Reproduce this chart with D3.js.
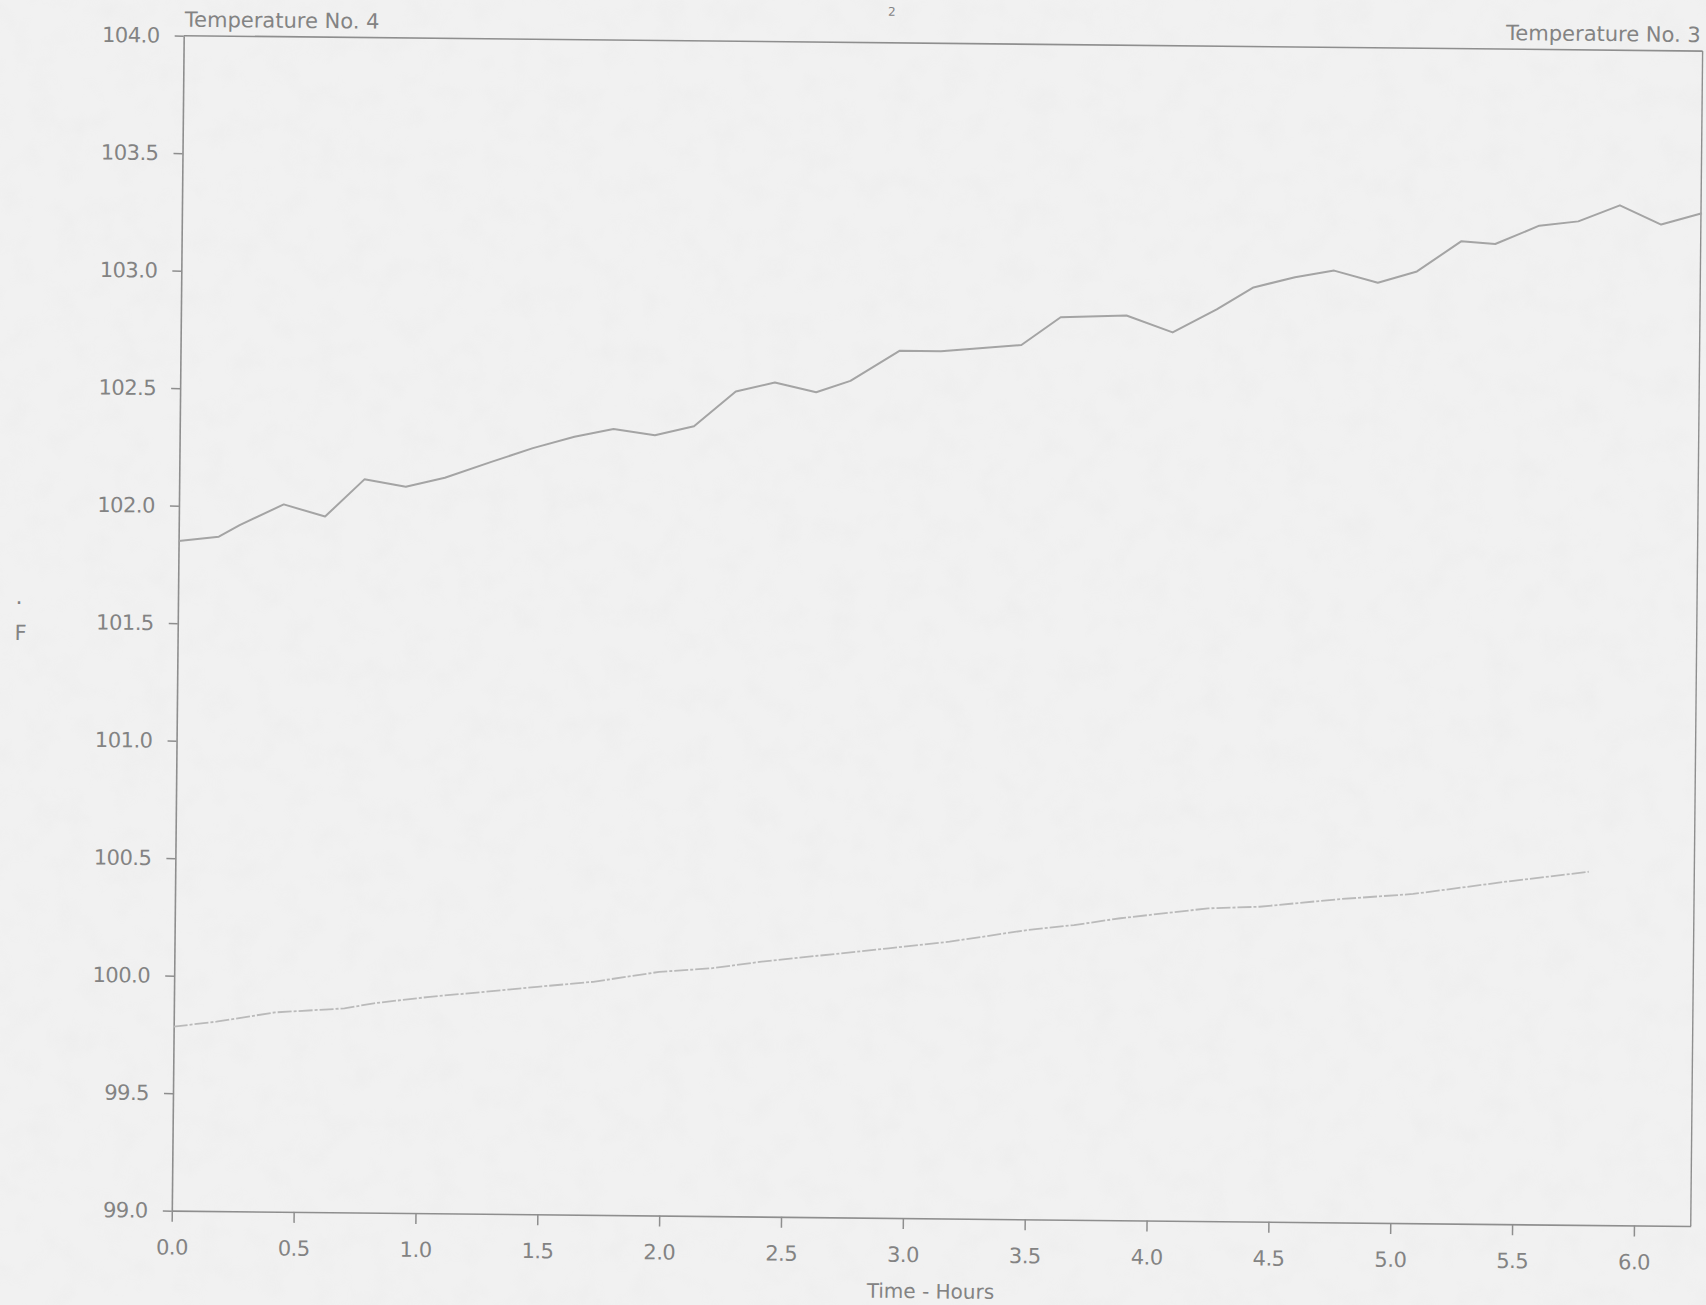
<!DOCTYPE html>
<html>
<head>
<meta charset="utf-8">
<script src="https://cdn.jsdelivr.net/npm/d3@7"></script>
<style>
  html, body { margin: 0; padding: 0; background: #f0f0f0; overflow: hidden; }
  svg { display: block; }
  text { font-family: "DejaVu Sans", "Liberation Sans", sans-serif; fill: #838383; }
</style>
</head>
<body>
<svg id="chart" width="1706" height="1305"></svg>
<script>
// Temperature readings (deg F) against elapsed time (hours)
const upperHours = [0, 0.165, 0.25, 0.43, 0.60, 0.76, 0.93, 1.09, 1.28, 1.45, 1.62, 1.78, 1.95, 2.11,
  2.28, 2.44, 2.61, 2.75, 2.95, 3.12, 3.45, 3.61, 3.88, 4.07, 4.25, 4.40, 4.57, 4.73, 4.91, 5.07,
  5.25, 5.39, 5.57, 5.73, 5.90, 6.07, 6.237];
const upperTemps = [101.85, 101.87, 101.92, 102.01, 101.96, 102.12, 102.09, 102.13, 102.20, 102.26,
  102.31, 102.345, 102.32, 102.36, 102.51, 102.55, 102.51, 102.56, 102.69, 102.69, 102.72, 102.84,
  102.85, 102.78, 102.88, 102.975, 103.02, 103.05, 103.00, 103.05, 103.18, 103.17, 103.25, 103.27,
  103.34, 103.26, 103.31];

const lowerHours = [0, 0.175, 0.415, 0.70, 0.82, 1.05, 1.28, 1.49, 1.72, 1.99, 2.20, 2.41, 2.73,
  2.93, 3.18, 3.50, 3.69, 3.88, 4.24, 4.45, 4.77, 5.08, 5.46, 5.80];
const lowerTemps = [99.783, 99.806, 99.848, 99.868, 99.891, 99.921, 99.945, 99.968, 99.992, 100.037,
  100.054, 100.085, 100.123, 100.147, 100.178, 100.231, 100.254, 100.285, 100.331, 100.340, 100.375,
  100.401, 100.457, 100.503];

const xTickValues = [0, 0.5, 1, 1.5, 2, 2.5, 3, 3.5, 4, 4.5, 5, 5.5, 6];
const yTickValues = [99, 99.5, 100, 100.5, 101, 101.5, 102, 102.5, 103, 103.5, 104];
const xDomain = [0, 6.233];
const yDomain = [99, 104];

const leftTitle = "Temperature No. 4";
const rightTitle = "Temperature No. 3";
const xTitle = "Time - Hours";
const yTitle = "F";
const pageNumber = "2";

// Plot frame
const plotLeft = 183.7, plotTop = 35.7, plotW = 1519, plotH = 1175;
const pageTilt = 0.58; // the sheet sits slightly askew

const svg = d3.select("#chart");

// Paper: light grey with a faint mottled grain
const defs = svg.append("defs");
const grain = defs.append("filter").attr("id", "grain")
  .attr("x", 0).attr("y", 0).attr("width", "100%").attr("height", "100%");
grain.append("feTurbulence").attr("type", "fractalNoise")
  .attr("baseFrequency", 0.035).attr("numOctaves", 3).attr("seed", 7).attr("result", "n");
grain.append("feColorMatrix").attr("type", "matrix")
  .attr("values", "0 0 0 0 0.55  0 0 0 0 0.55  0 0 0 0 0.55  0 0 0 -1.1 0.62");
svg.append("rect").attr("width", 1706).attr("height", 1305).attr("fill", "#f1f1f1");
svg.append("rect").attr("width", 1706).attr("height", 1305)
  .attr("filter", "url(#grain)").attr("opacity", 0.1);

const page = svg.append("g")
  .attr("transform", `rotate(${pageTilt} ${plotLeft} ${plotTop})`);
const g = page.append("g").attr("transform", `translate(${plotLeft},${plotTop})`);

const x = d3.scaleLinear().domain(xDomain).range([0, plotW]);
const y = d3.scaleLinear().domain(yDomain).range([plotH, 0]);

const axisColor = "#8e8e8e";

// Frame: top and right edges
g.append("line").attr("x1", 0).attr("x2", plotW).attr("y1", 0).attr("y2", 0)
  .attr("stroke", axisColor).attr("stroke-width", 1.6);
g.append("line").attr("x1", plotW).attr("x2", plotW).attr("y1", 0).attr("y2", plotH)
  .attr("stroke", axisColor).attr("stroke-width", 1.4);

// Y axis
const yAxis = g.append("g")
  .call(d3.axisLeft(y).tickValues(yTickValues).tickFormat(d3.format(".1f"))
    .tickSize(9).tickPadding(15).tickSizeOuter(0));
// X axis
const xAxis = g.append("g").attr("transform", `translate(0,${plotH})`)
  .call(d3.axisBottom(x).tickValues(xTickValues).tickFormat(d3.format(".1f"))
    .tickSize(11).tickPadding(18).tickSizeOuter(0));

[yAxis, xAxis].forEach(ax => {
  ax.select(".domain").attr("stroke", axisColor).attr("stroke-width", 1.6);
  ax.selectAll(".tick line").attr("stroke", axisColor).attr("stroke-width", 1.5);
  ax.selectAll(".tick text").attr("fill", "#838383")
    .style("font-family", "'DejaVu Sans', sans-serif").style("font-size", "21px")
    .style("letter-spacing", "-0.5px");
  ax.attr("font-family", null).attr("font-size", null);
});

// Series lines
const line = d3.line().x(d => x(d[0])).y(d => y(d[1]));
g.append("path")
  .datum(upperHours.map((h, i) => [h, upperTemps[i]]))
  .attr("d", line).attr("fill", "none")
  .attr("stroke", "#a4a4a4").attr("stroke-width", 2).attr("stroke-linejoin", "round");
g.append("path")
  .datum(lowerHours.map((h, i) => [h, lowerTemps[i]]))
  .attr("d", line).attr("fill", "none")
  .attr("stroke", "#bababa").attr("stroke-width", 1.8)
  .attr("stroke-dasharray", "14 2 3 2");

// Titles
g.append("text").attr("x", 1).attr("y", -9).text(leftTitle).style("font-size", "21px");
g.append("text").attr("x", plotW - 2).attr("y", -9).attr("text-anchor", "end")
  .text(rightTitle).style("font-size", "21px");
g.append("text").attr("x", plotW / 2).attr("y", plotH + 80).attr("text-anchor", "middle")
  .text(xTitle).style("font-size", "20px");
g.append("text").attr("x", -157).attr("y", 606).attr("text-anchor", "middle")
  .text(yTitle).style("font-size", "21px");
g.append("text").attr("x", -159).attr("y", 570).attr("text-anchor", "middle")
  .text(".").style("font-size", "22px");
g.append("text").attr("x", 708).attr("y", -27).attr("text-anchor", "middle")
  .text(pageNumber).style("font-size", "12px").attr("fill", "#8a8a8a");
</script>
</body>
</html>
